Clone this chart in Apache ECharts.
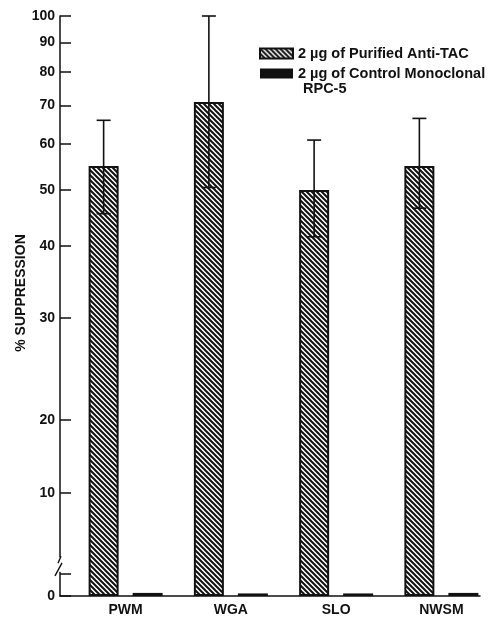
<!DOCTYPE html>
<html>
<head>
<meta charset="utf-8">
<script src="https://cdn.jsdelivr.net/npm/echarts@6/dist/echarts.min.js"></script>
<style>
  html, body { margin: 0; padding: 0; background: #fff; }
  #main { width: 495px; height: 619px; }
</style>
</head>
<body>
<div id="main"></div>
<script>
var categories = ['PWM', 'WGA', 'SLO', 'NWSM'];
var antiTac = [55, 71, 50, 55];
var antiTacLow = [45.5, 50.5, 41.5, 46.5];
var antiTacHigh = [66, 100, 61, 66.5];
var control = [0.3, 0.25, 0.25, 0.3];
var yTicks = [0, 10, 20, 30, 40, 50, 60, 70, 80, 90, 100];
var breakTick = 2.2;

var nameAnti = '2 µg of Purified Anti-TAC';
var nameCtrl = '2 µg of Control Monoclonal';

// printed axis: 0-10-20 stretched linearly, log spacing from 20 up
var lowStops = [0, 103, 176];
var logSpan = 404 / Math.log(5);
function yScale(v) {
    if (v <= 10) return v / 10 * lowStops[1];
    if (v <= 20) return lowStops[1] + (v - 10) / 10 * (lowStops[2] - lowStops[1]);
    return lowStops[2] + logSpan * Math.log(v / 20);
}
var yMax = yScale(100);
var tickPos = yTicks.map(yScale);

var barW = 30, barGapPx = 14;
var hatchOffset = -(barW + barGapPx) / 2;

function hatch() {
    let c = document.createElement('canvas');
    c.width = 5; c.height = 5;
    let ctx = c.getContext('2d');
    ctx.fillStyle = '#fff';
    ctx.fillRect(0, 0, 5, 5);
    ctx.strokeStyle = '#111';
    ctx.lineWidth = 2;
    ctx.beginPath();
    ctx.moveTo(-1, -1); ctx.lineTo(6, 6);
    ctx.moveTo(-1, 4); ctx.lineTo(1, 6);
    ctx.moveTo(4, -1); ctx.lineTo(6, 1);
    ctx.stroke();
    return c;
}

var font = "'Liberation Sans', Arial, sans-serif";
var ink = '#111';

let myChart = echarts.init(document.getElementById('main'));

let option = {
    animation: false,
    backgroundColor: '#fff',
    grid: [
        { left: 60, width: 420, top: 16, height: yMax },
        { left: 73, width: 421, top: 16, height: yMax }
    ],
    legend: {
        orient: 'vertical',
        left: 259,
        top: 46,
        padding: 0,
        icon: 'rect',
        itemWidth: 33,
        itemHeight: 10,
        itemGap: 5,
        selectedMode: false,
        textStyle: { fontFamily: font, fontWeight: 'bold', fontSize: 14.5, color: ink },
        data: [nameAnti, nameCtrl]
    },
    xAxis: [
        {
            gridIndex: 0, type: 'value', min: 0, max: 1,
            axisLine: { show: true, lineStyle: { color: ink, width: 1.5 } },
            axisTick: { show: false }, axisLabel: { show: false }, splitLine: { show: false }
        },
        {
            gridIndex: 1, type: 'category', data: categories,
            axisLine: { show: false }, axisTick: { show: false },
            axisLabel: { margin: 7, fontFamily: font, fontWeight: 'bold', fontSize: 14, color: ink }
        }
    ],
    yAxis: [
        {
            gridIndex: 0, type: 'value', min: 0, max: yMax,
            name: '% SUPPRESSION',
            nameLocation: 'middle',
            nameGap: 32,
            nameMoveOverlap: false,
            nameTextStyle: { fontFamily: font, fontWeight: 'bold', fontSize: 14, color: ink, padding: [0, 0, 0, 26] },
            axisLine: { show: true, lineStyle: { color: ink, width: 1.5 } },
            axisTick: { show: true, inside: true, length: 11, lineStyle: { color: ink, width: 1.5 },
                customValues: tickPos.concat([yScale(breakTick)]) },
            axisLabel: {
                margin: 5, fontFamily: font, fontWeight: 'bold', fontSize: 14, color: ink,
                customValues: tickPos,
                formatter: function (v) {
                    let i = tickPos.findIndex(function (p) { return Math.abs(p - v) < 0.01; });
                    return i >= 0 ? String(yTicks[i]) : '';
                }
            },
            splitLine: { show: false }
        },
        {
            gridIndex: 1, type: 'value', min: 0, max: yMax, show: false
        }
    ],
    series: [
        {
            name: nameAnti, type: 'bar', xAxisIndex: 1, yAxisIndex: 1,
            barWidth: barW, barGap: (barGapPx / barW * 100) + '%',
            itemStyle: { color: { image: hatch(), repeat: 'repeat' }, borderColor: ink, borderWidth: 2 },
            data: antiTac.map(yScale)
        },
        {
            name: nameCtrl, type: 'bar', xAxisIndex: 1, yAxisIndex: 1,
            barWidth: barW, barMinHeight: 2,
            itemStyle: { color: ink },
            data: control.map(yScale)
        },
        {
            type: 'custom', xAxisIndex: 1, yAxisIndex: 1, z: 5,
            data: categories.map(function (c, i) { return [i, yScale(antiTacLow[i]), yScale(antiTacHigh[i])]; }),
            renderItem: function (params, api) {
                let lo = api.coord([api.value(0), api.value(1)]);
                let hi = api.coord([api.value(0), api.value(2)]);
                let x = lo[0] + hatchOffset;
                let cap = 7;
                let st = { stroke: ink, lineWidth: 1.6 };
                return {
                    type: 'group',
                    children: [
                        { type: 'line', shape: { x1: x, y1: lo[1], x2: x, y2: hi[1] }, style: st },
                        { type: 'line', shape: { x1: x - cap, y1: hi[1], x2: x + cap, y2: hi[1] }, style: st },
                        { type: 'line', shape: { x1: x - cap, y1: lo[1], x2: x + cap, y2: lo[1] }, style: st }
                    ]
                };
            }
        }
    ]
};

myChart.setOption(option, true);

// axis break mark and second line of the control legend entry
let b1 = myChart.convertToPixel({ gridIndex: 0 }, [0, yScale(breakTick) + 1.5]);
let b2 = myChart.convertToPixel({ gridIndex: 0 }, [0, yScale(breakTick) + 16]);
myChart.setOption({
    graphic: [
        { type: 'rect', shape: { x: b1[0] - 2, y: b2[1], width: 4, height: b1[1] - b2[1] }, style: { fill: '#fff' }, z: 10 },
        { type: 'line', shape: { x1: b1[0] - 5, y1: b1[1] + 4, x2: b1[0] + 2, y2: b1[1] - 9 }, style: { stroke: ink, lineWidth: 1.4 }, z: 11 },
        { type: 'line', shape: { x1: b2[0] - 2, y1: b2[1] + 6, x2: b2[0] + 1, y2: b2[1] - 1 }, style: { stroke: ink, lineWidth: 1.4 }, z: 11 },
        { type: 'text', left: 303, top: 81, style: { text: 'RPC-5', font: 'bold 14.5px ' + font, fill: ink } }
    ]
});
</script>
</body>
</html>
